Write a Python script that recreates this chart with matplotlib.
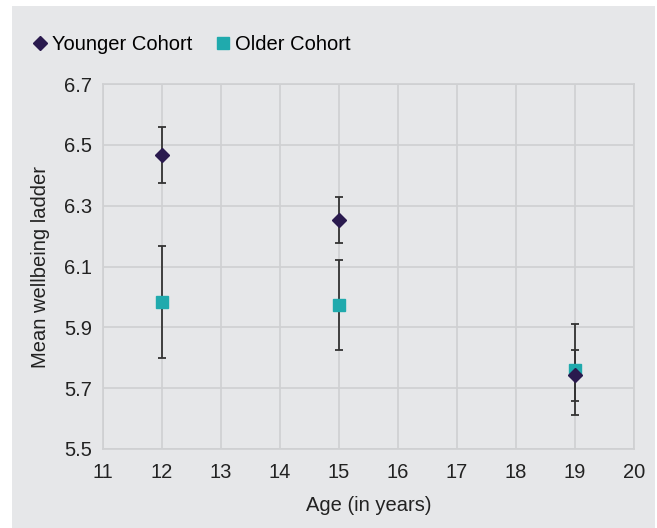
import matplotlib
matplotlib.use('Agg')
import matplotlib.pyplot as plt
from matplotlib.patches import Rectangle

plt.rcParams['font.family'] = ['Liberation Sans Narrow', 'Liberation Sans', 'DejaVu Sans']

# data
ages_young = [12, 15, 19]
mean_young = [6.467, 6.252, 5.742]
err_young = [0.091, 0.075, 0.084]

ages_old = [12, 15, 19]
mean_old = [5.983, 5.974, 5.761]
err_old = [0.185, 0.149, 0.150]

xticks = list(range(11, 21))
yticks = [5.5, 5.7, 5.9, 6.1, 6.3, 6.5, 6.7]

c_young = '#2a1a4e'
c_old = '#20aaad'
bg = '#e6e7e9'
gridc = '#cfd0d2'

fig = plt.figure(figsize=(6.57, 5.28), dpi=100, facecolor='white')
fig.patches.append(Rectangle((12/657, 0), 643/657, 522/528, transform=fig.transFigure,
                             facecolor=bg, edgecolor='none', zorder=-10))

ax = fig.add_axes([103/657, 79/528, 531/657, 365/528])
ax.set_facecolor(bg)

ax.errorbar(ages_old, mean_old, yerr=err_old, fmt='none', ecolor='#333333',
            elinewidth=1.3, capsize=3, capthick=1.3, zorder=3)
ax.errorbar(ages_young, mean_young, yerr=err_young, fmt='none', ecolor='#333333',
            elinewidth=1.3, capsize=3, capthick=1.3, zorder=3)
ax.plot(ages_old, mean_old, 's', color=c_old, markersize=9, linestyle='none',
        label='Older Cohort', zorder=4)
ax.plot(ages_young, mean_young, 'D', color=c_young, markersize=7, linestyle='none',
        label='Younger Cohort', zorder=5)

ax.set_xlim(11, 20)
ax.set_ylim(5.5, 6.7)
ax.set_xticks(xticks)
ax.set_yticks(yticks)
ax.set_yticklabels([f'{v:.1f}' for v in yticks])
ax.grid(True, color=gridc, linewidth=1.2)
ax.set_axisbelow(True)
for s in ax.spines.values():
    s.set_color(gridc)
    s.set_linewidth(1.2)
ax.tick_params(length=0, labelsize=14.5, colors='#222222')
ax.tick_params(axis='x', pad=10)
ax.tick_params(axis='y', pad=8)

ax.set_xlabel('Age (in years)', fontsize=14.5, color='#222222', labelpad=10)
ax.set_ylabel('Mean wellbeing ladder', fontsize=14.5, color='#222222', labelpad=10)

h, l = ax.get_legend_handles_labels()
fig.legend(h[::-1], l[::-1], loc='upper left', bbox_to_anchor=(22/657, 1 - 27/528),
           ncol=2, frameon=False, fontsize=14.5, handletextpad=0.1,
           columnspacing=1.0, handlelength=1.0, borderaxespad=0)

fig.savefig('out.png', dpi=100, facecolor='white')
